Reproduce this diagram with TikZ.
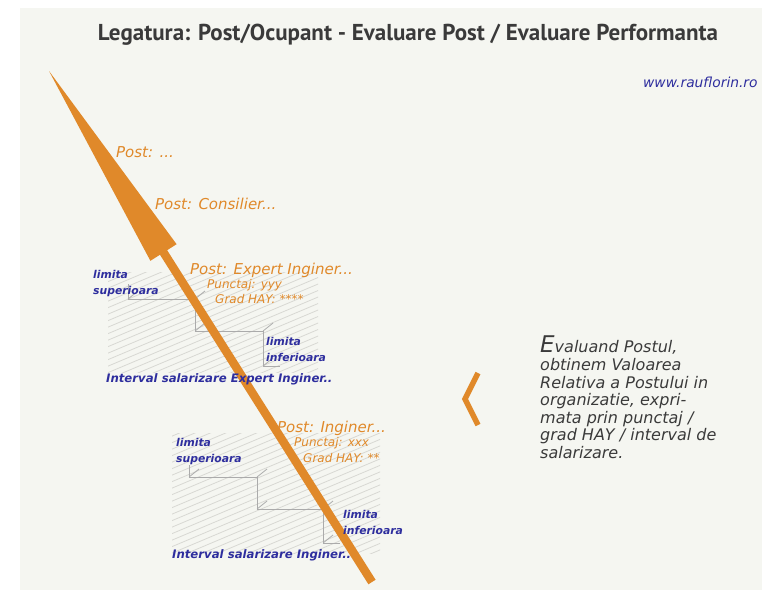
\documentclass[tikz,border=0pt]{standalone}
\usepackage{fontspec}
\setmainfont{DejaVu Sans}
\newfontfamily\titlefont{PT Sans}
\definecolor{panel}{HTML}{F5F6F1}
\definecolor{amber}{HTML}{E0892A}
\definecolor{ink}{HTML}{2E2E9E}
\definecolor{dark}{HTML}{3A3A3A}
\definecolor{hatch}{HTML}{D8D8D3}
\definecolor{stair}{HTML}{ABABAB}
\tikzset{
  shaft/.style={draw=amber, line width=8.5pt},
  hatchline/.style={draw=hatch, line width=0.8pt},
  stairline/.style={draw=stair, line width=0.8pt, line join=miter},
  post/.style={text=amber, font=\itshape\fontsize{15}{17}\selectfont, inner sep=0pt, anchor=west},
  score/.style={text=amber, font=\itshape\fontsize{12}{14}\selectfont, inner sep=0pt, anchor=west},
  lim/.style={text=ink, font=\bfseries\itshape\fontsize{10.8}{16}\selectfont, inner sep=0pt, anchor=north west, align=left},
  band/.style={text=ink, font=\bfseries\itshape\fontsize{11.7}{13}\selectfont, inner sep=0pt, anchor=west},
}
\begin{document}
\begin{tikzpicture}[x=1pt,y=-1pt]
  \useasboundingbox (0,0) rectangle (762,590);
  \fill[white] (0,0) rectangle (762,590);
  \fill[panel] (20,8) rectangle (762,590);

  % hatched salary intervals
  \foreach \xa/\ya/\xb/\yb in {108/272/318/372, 172/433/380/553} {
    \begin{scope}
      \clip (\xa,\ya) rectangle (\xb,\yb);
      \foreach \k in {0,...,40}
        \draw[hatchline] (\xa-8,\ya+\k*6.5) -- ++(230,-97);
    \end{scope}
  }

  % limit staircases
  \draw[stairline] (128,284) -- (128,299) -- (195,299) -- (195,331) -- (263,331) -- (263,366) -- (280,366);
  \draw[stairline] (189,465) -- (189,477) -- (257,477) -- (257,509) -- (323,509) -- (323,543) -- (340,543);
  \foreach \p in {(128,299),(195,299),(195,331),(263,331),(263,366),
                  (189,477),(257,477),(257,509),(323,509),(323,543)}
    \draw[stairline] \p -- ++(10,-8);

  % career arrow
  \coordinate (tip) at (49,71);
  \coordinate (barbR) at (176.6,244.2);
  \coordinate (barbL) at (150.4,260.8);
  \coordinate (neck) at (162,250);
  \coordinate (foot) at (372,582);
  \draw[shaft] (neck) -- (foot);
  \fill[amber] (tip) -- (barbR) -- (barbL) -- cycle;

  % chevron
  \draw[amber, line width=5.5pt] (478,373) -- (465,399) -- (478,425);

  % titles
  \node[text=dark, font=\titlefont\bfseries\fontsize{23}{25}\selectfont] (title) at (408,35)
    {Legatura: Post/Ocupant - Evaluare Post / Evaluare Performanta};
  \node[text=ink, font=\itshape\fontsize{13.8}{16}\selectfont, inner sep=0pt, anchor=west] (site) at (643,82)
    {www.rauflorin.ro};

  % posts
  \node[post] (postany) at (116,152) {Post: ...};
  \node[post] (postcons) at (155,204) {Post: Consilier...};
  \node[post] (postexp) at (190,270) {Post: Expert Inginer...};
  \node[score] (ptsexp) at (207,285) {Punctaj: yyy};
  \node[score] (hayexp) at (215,299) {Grad HAY: ****};
  \node[post] (posting) at (277,428) {Post: Inginer...};
  \node[score] (ptsing) at (294,443) {Punctaj: xxx};
  \node[score] (haying) at (303,458) {Grad HAY: **};

  % limits
  \node[lim] (supexp) at (93,270) {limita\\superioara};
  \node[lim] (infexp) at (266,337) {limita\\inferioara};
  \node[band] (bandexp) at (106,379) {Interval salarizare Expert Inginer..};
  \node[lim] (suping) at (176,438) {limita\\superioara};
  \node[lim] (infing) at (343,510) {limita\\inferioara};
  \node[band] (banding) at (172,555) {Interval salarizare Inginer..};

  % note
  \node[text=dark, font=\itshape\fontsize{16}{17.6}\selectfont, inner sep=0pt, anchor=north west, align=left] (note) at (540,336)
    {{\fontsize{23}{24}\selectfont E}valuand Postul,\\obtinem Valoarea\\Relativa a Postului in\\organizatie, expri-\\mata prin punctaj /\\grad HAY / interval de\\salarizare.};
\end{tikzpicture}
\end{document}
